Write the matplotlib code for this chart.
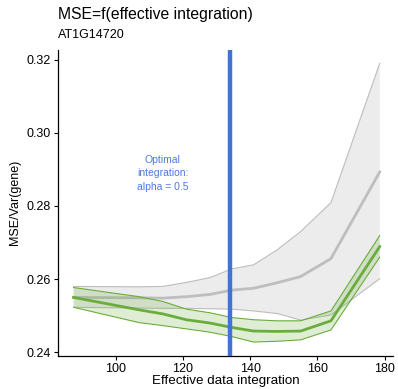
import matplotlib
matplotlib.use('Agg')
import matplotlib.pyplot as plt

plt.rcParams['font.family'] = ['Liberation Sans', 'DejaVu Sans']

# effective data integration (x) and MSE/Var(gene) bands
eff = [87.5, 107, 114, 121, 128, 134.5, 141, 148, 155, 164, 178.5]

gray_lo = [0.2523, 0.2521, 0.2520, 0.2520, 0.2519, 0.2518, 0.2513, 0.2506, 0.2488, 0.2502, 0.2601]
gray_mid = [0.2550, 0.2549, 0.2548, 0.2552, 0.2558, 0.2570, 0.2575, 0.2590, 0.2607, 0.2656, 0.2893]
gray_hi = [0.2580, 0.2579, 0.2580, 0.2591, 0.2604, 0.2628, 0.2639, 0.2680, 0.2730, 0.2809, 0.3190]

green_lo = [0.2523, 0.2481, 0.2473, 0.2464, 0.2455, 0.2443, 0.2428, 0.2430, 0.2434, 0.2461, 0.2660]
green_mid = [0.2550, 0.2516, 0.2505, 0.2489, 0.2480, 0.2468, 0.2458, 0.2457, 0.2458, 0.2486, 0.2689]
green_hi = [0.2577, 0.2552, 0.2539, 0.2518, 0.2508, 0.2495, 0.2489, 0.2486, 0.2486, 0.2513, 0.2719]

optimal_x = 134.0
xticks = [100, 120, 140, 160, 180]
yticks = [0.24, 0.26, 0.28, 0.30, 0.32]

fig = plt.figure(figsize=(3.98, 3.89), dpi=100)
ax = fig.add_axes([0.146, 0.085, 0.841, 0.787])

ax.fill_between(eff, gray_lo, gray_hi, facecolor='#ececec', edgecolor='none', zorder=1)
ax.plot(eff, gray_lo, color='#bdbdbd', lw=0.8, zorder=2)
ax.plot(eff, gray_hi, color='#bdbdbd', lw=0.8, zorder=2)
ax.plot(eff, gray_mid, color='#bebebe', lw=2, zorder=2)

ax.fill_between(eff, green_lo, green_hi, facecolor='#6aad3d', alpha=0.22, edgecolor='none', zorder=3)
ax.plot(eff, green_lo, color='#6aad3d', lw=0.8, zorder=4)
ax.plot(eff, green_hi, color='#6aad3d', lw=0.8, zorder=4)
ax.plot(eff, green_mid, color='#6aad3d', lw=2, zorder=4)

ax.axvline(optimal_x, color='#4272d6', lw=3.2, zorder=5)
ax.text(114, 0.2889, 'Optimal\nintegration:\nalpha = 0.5', color='#4a7be0',
        fontsize=7.5, ha='center', va='center', linespacing=1.45)

ax.set_xlim(82.9, 182.4)
ax.set_ylim(0.239, 0.3227)
ax.set_xticks(xticks)
ax.set_yticks(yticks)
ax.set_yticklabels([f'{v:.2f}' for v in yticks])
ax.tick_params(labelsize=9, length=3, width=0.8, colors='black', pad=2)
for s in ['top', 'right']:
    ax.spines[s].set_visible(False)
ax.spines['left'].set_linewidth(0.9)
ax.spines['bottom'].set_linewidth(0.9)

ax.set_xlabel('Effective data integration', fontsize=9.6, labelpad=0)
ax.set_ylabel('MSE/Var(gene)', fontsize=9, labelpad=4)

fig.text(0.146, 0.963, 'MSE=f(effective integration)', fontsize=11.3, ha='left', va='center')
fig.text(0.146, 0.91, 'AT1G14720', fontsize=9, ha='left', va='center')

fig.savefig('out.png', dpi=100)
